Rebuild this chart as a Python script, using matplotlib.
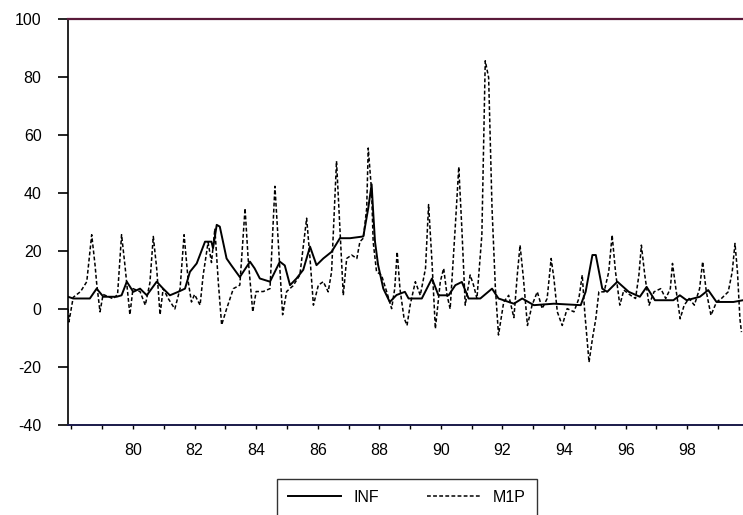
import matplotlib
matplotlib.use("Agg")
import matplotlib.pyplot as plt
from matplotlib.ticker import MultipleLocator

plt.rcParams['font.family'] = ['Liberation Sans', 'DejaVu Sans']
plt.rcParams['axes.unicode_minus'] = False

# INF (decimal year, value)
inf_t = [77.89, 78.06, 78.6, 78.82, 79.04, 79.47, 79.63, 79.8, 80.01, 80.23,
         80.45, 80.77, 80.98, 81.2, 81.47, 81.69, 81.85, 82.07, 82.34, 82.55,
         82.6, 82.72, 82.82, 83.04, 83.19, 83.47, 83.8, 83.95, 84.12, 84.45,
         84.77, 84.93, 85.1, 85.31, 85.53, 85.75, 85.96, 86.18, 86.45, 86.72,
         87.05, 87.48, 87.64, 87.75, 87.8, 87.86, 87.96, 88.13, 88.34, 88.56,
         88.83, 88.95, 89.38, 89.71, 89.92, 90.25, 90.47, 90.68, 90.9, 91.28,
         91.66, 91.87, 92.37, 92.64, 93.02, 93.67, 94.54, 94.7, 94.92, 95.03,
         95.24, 95.4, 95.73, 96.1, 96.46, 96.68, 96.95, 97.55, 97.76, 97.98,
         98.41, 98.68, 98.95, 99.5, 99.81]
inf_v = [4.2, 3.6, 3.6, 7, 4.2, 4.2, 4.7, 9.4, 5.9, 7,
         4.7, 9.4, 7, 4.7, 5.9, 7, 12.8, 15.7, 23.2, 23.2,
         20.9, 29, 28.4, 17.4, 15.1, 11, 16.3, 14, 10.5, 9.4,
         16.3, 15, 8.2, 10.5, 13.5, 21.5, 15.1, 17.4, 19.7, 24.4,
         24.4, 25, 34.7, 43, 33.6, 23.2, 15.2, 7, 2.4, 4.8,
         5.9, 3.6, 3.6, 10.5, 4.7, 4.7, 8.2, 9.3, 3.6, 3.6,
         7, 3.6, 1.8, 3.6, 1.3, 1.8, 1.3, 5.9, 18.6, 18.6,
         7, 5.9, 9.4, 5.9, 4.2, 7.6, 3, 3, 4.7, 3,
         4.2, 6.5, 2.4, 2.4, 3]

# M1P (decimal year, value)
m1p_t = [77.89, 77.92, 78.06, 78.3, 78.5, 78.66, 78.77, 78.82, 78.93, 79.03,
         79.36, 79.5, 79.63, 79.74, 79.9, 80.0, 80.23, 80.4, 80.55, 80.66,
         80.77, 80.88, 80.98, 81.15, 81.36, 81.53, 81.66, 81.8, 81.9, 82.0,
         82.18, 82.28, 82.44, 82.55, 82.66, 82.77, 82.88, 83.04, 83.26, 83.47,
         83.64, 83.74, 83.89, 84.0, 84.23, 84.45, 84.61, 84.77, 84.86, 84.99,
         85.2, 85.42, 85.64, 85.75, 85.86, 86.02, 86.18, 86.34, 86.45, 86.61,
         86.72, 86.83, 86.94, 87.1, 87.27, 87.37, 87.48, 87.59, 87.64, 87.75,
         87.8, 87.91, 88.07, 88.24, 88.4, 88.5, 88.58, 88.67, 88.8, 88.9,
         89.0, 89.17, 89.33, 89.5, 89.6, 89.71, 89.82, 89.98, 90.09, 90.2,
         90.3, 90.47, 90.58, 90.68, 90.79, 90.95, 91.06, 91.17, 91.33, 91.44,
         91.55, 91.66, 91.77, 91.87, 92.04, 92.2, 92.37, 92.48, 92.57, 92.68,
         92.81, 92.96, 93.13, 93.29, 93.45, 93.58, 93.67, 93.78, 93.94, 94.1,
         94.32, 94.48, 94.59, 94.67, 94.81, 94.92, 95.03, 95.13, 95.3, 95.45,
         95.56, 95.67, 95.81, 95.94, 96.16, 96.32, 96.43, 96.51, 96.62, 96.76,
         96.92, 97.14, 97.3, 97.45, 97.52, 97.63, 97.77, 97.9, 98.06, 98.23,
         98.4, 98.5, 98.62, 98.77, 98.95, 99.11, 99.33, 99.46, 99.55, 99.63,
         99.71, 99.76]
m1p_v = [0, -4.5, 4, 6, 9.4, 25.6, 15, 9, -1, 5,
         3.5, 5, 25.6, 15, -2, 7, 6, 1.3, 9, 25,
         14, -2, 7, 3.5, 0, 7, 25.6, 9, 2.4, 5,
         1.3, 11.7, 23, 16, 27.7, 9.4, -5.5, 0, 7, 8.2,
         34.7, 17.4, -1, 6, 6, 7, 42.3, 14, -2, 6,
         8, 11.7, 31.3, 17.4, 1.3, 8.2, 9.4, 5.9, 12.8, 51,
         27.8, 4.7, 17.4, 18.6, 17.4, 23.2, 24.4, 34.7, 55.5, 40.5,
         23.2, 12.8, 11.7, 5.9, 0.1, 7, 19.7, 7, -3, -5.7,
         1.3, 9.4, 4.7, 14, 36, 16.3, -6.8, 9.4, 14, 4.7,
         0, 29, 49, 27.8, 1.3, 11.7, 8.2, 3.6, 25.5, 85.6,
         79.8, 34.7, 7, -9, 2.4, 4.7, -3, 11.7, 22, 10.5,
         -5.7, 1.3, 5.9, 0.1, 3.6, 17.4, 10.5, -1, -5.7, 0.1,
         -1, 3.6, 11.7, -1, -18.4, -10.3, -3.4, 5.9, 5.9, 12.8,
         25.5, 12.8, 1.3, 6.5, 4.7, 3.6, 11.7, 22, 11.7, 1.3,
         5.9, 7, 3.6, 7, 15.7, 7, -3.4, 1.3, 3.6, 1.3,
         7, 16.3, 5.9, -2.2, 2.4, 3.6, 5.9, 12.8, 22.6, 12.8,
         -3.4, -8]

fig = plt.figure(figsize=(7.43, 5.15), dpi=100)
ax = fig.add_axes([0.0915, 0.175, 0.9085, 0.788])

ax.plot(inf_t, inf_v, color='black', lw=1.4, label='INF')
ax.plot(m1p_t, m1p_v, color='black', lw=1.1, dashes=(2.5, 1.5), label='M1P')

ax.set_xlim(77.89, 99.81)
ax.set_ylim(-40, 100)
ax.yaxis.set_major_locator(MultipleLocator(20))
ax.xaxis.set_minor_locator(MultipleLocator(1))
ax.set_xticks(range(80, 100, 2))
ax.set_xticklabels([str(y) for y in range(80, 100, 2)])

ax.spines['right'].set_visible(False)
ax.spines['top'].set_color('#5a1a3a')
ax.spines['top'].set_linewidth(1.6)
ax.spines['bottom'].set_color('#1a1a4a')
ax.spines['bottom'].set_linewidth(1.4)
ax.spines['left'].set_linewidth(1.2)

ax.tick_params(axis='y', direction='out', length=7, width=1.2, pad=12, labelsize=11.5)
ax.tick_params(axis='x', which='both', direction='out', length=3, width=1, pad=10, labelsize=11.5)

leg = fig.legend(loc='center', bbox_to_anchor=(0.548, 0.034), ncol=2,
                 fontsize=11.5, frameon=True, fancybox=False, edgecolor='black',
                 handlelength=3.3, columnspacing=3.0, borderpad=0.45,
                 handletextpad=0.8, borderaxespad=0)
leg.get_frame().set_linewidth(1.0)
leg.get_frame().set_boxstyle('square', pad=0.25)

fig.savefig('out.png', dpi=100)
